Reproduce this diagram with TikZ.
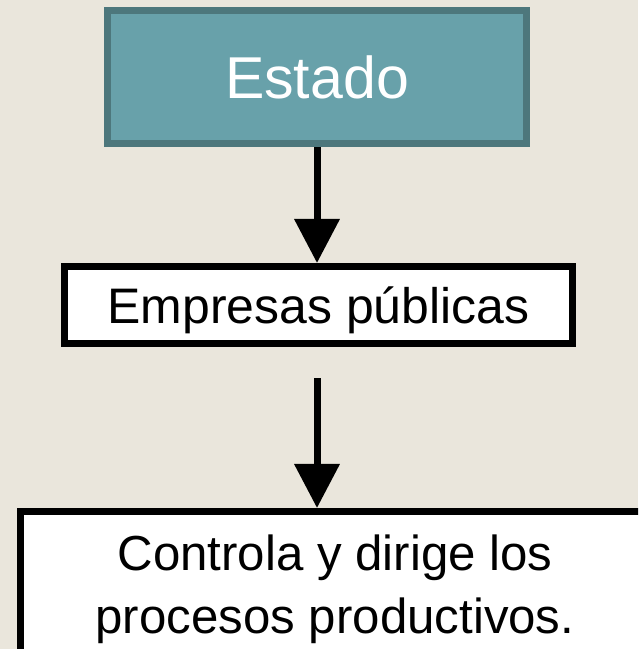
\documentclass[tikz,border=0pt]{standalone}
\usepackage{fontspec}
\setmainfont{Liberation Sans}
\usetikzlibrary{arrows.meta}
\definecolor{fondo}{HTML}{EAE6DC}
\definecolor{tealfill}{HTML}{68A1AA}
\definecolor{tealborde}{HTML}{4D777C}

\begin{document}
\begin{tikzpicture}[x=0.025cm,y=-0.025cm,
    caja/.style={draw=black,line width=0.175cm,fill=white,inner sep=0pt},
    flecha/.style={line width=0.175cm,-{Triangle[width=1.1cm,length=1.1cm]}}]
    % background
    \useasboundingbox (0,0) rectangle (638,649);
    \fill[fondo] (0,0) rectangle (638,649);
    \clip (0,0) rectangle (638,649);
    % boxes
    \node[draw=tealborde,fill=tealfill,line width=0.175cm,inner sep=0pt,minimum width=10.475cm,minimum height=3.325cm,text=white,font=\fontsize{42}{50}\selectfont] (estado) at (317,77) {Estado};
    \node[caja,minimum width=12.7cm,minimum height=1.925cm,text height=25.6pt,text depth=0pt,font=\fontsize{35.5}{42}\selectfont] (empresas) at (318.5,305) {Empresas públicas};
    \node[caja,minimum width=15.725cm,minimum height=3.875cm,align=center,font=\fontsize{35}{45}\selectfont] (tarea) at (335,589) {Controla y dirige los\\procesos productivos.};
    % arrows
    \draw[flecha] (estado.south) -- (estado.south |- empresas.north);
    \draw[flecha,shorten <=0.775cm] (estado.south |- empresas.south) -- (estado.south |- tarea.north);
\end{tikzpicture}
\end{document}
